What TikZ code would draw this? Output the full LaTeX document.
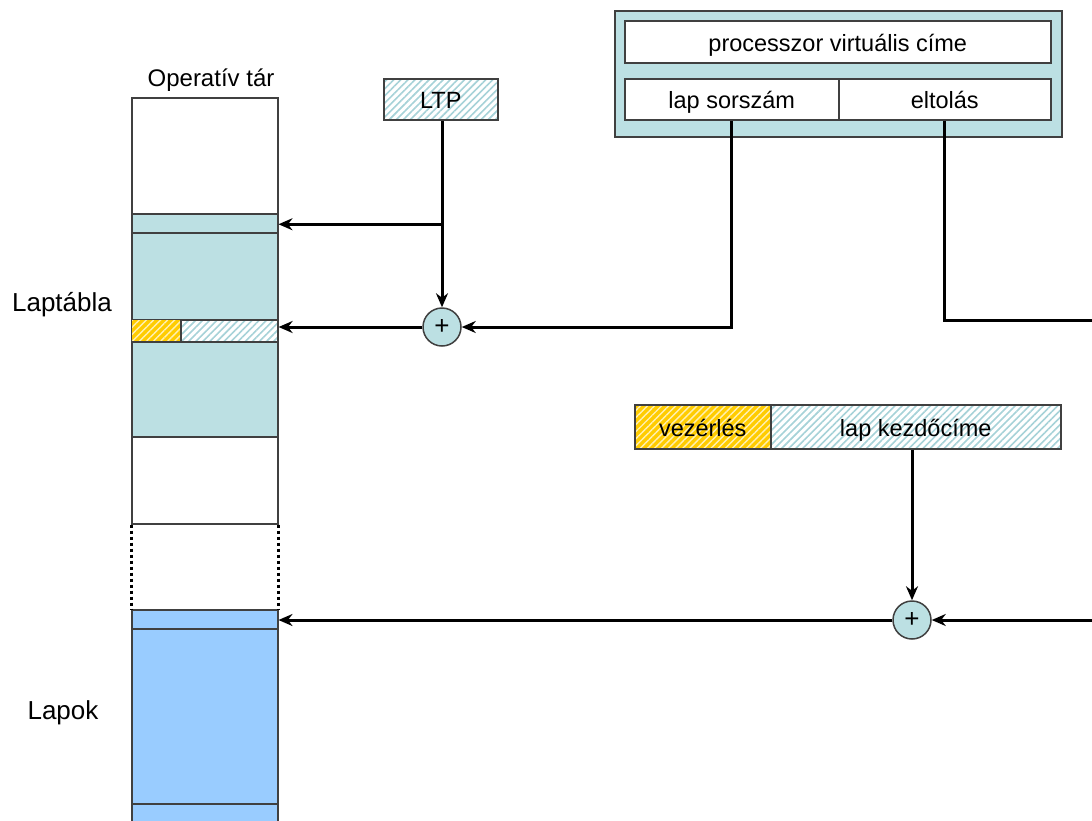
\documentclass[tikz,border=0pt]{standalone}
\usepackage{fontspec}
\setmainfont{Liberation Sans}
\usetikzlibrary{positioning,arrows.meta,patterns.meta,calc}
\definecolor{turkiz}{HTML}{BCE0E3}
\definecolor{kek}{HTML}{99CCFF}
\definecolor{sarga}{HTML}{FFCC00}
\definecolor{csik}{HTML}{A6D2D8}
\definecolor{keret}{HTML}{404040}
\tikzstyle{doboz} = [rectangle, draw=keret, line width=1.5pt, inner sep=0pt, anchor=north west, text centered, text height=20, text depth=1, font=\fontsize{23.5}{27}\selectfont]
\tikzstyle{tarsor} = [doboz, minimum width=146]
\tikzstyle{csikos} = [doboz, preaction={fill=white}, pattern={Lines[angle=45,distance=5pt,line width=1.6pt]}, pattern color=csik]
\tikzstyle{sargacsikos} = [doboz, preaction={fill=sarga}, pattern={Lines[angle=45,distance=5pt,line width=1.4pt]}, pattern color=white!70!sarga]
\tikzstyle{osszeado} = [circle, draw=keret, line width=1.5pt, fill=turkiz, minimum size=38, inner sep=0pt, font=\fontsize{26}{28}\selectfont]
\tikzstyle{nyil} = [line width=3pt, -{Stealth[length=14pt,width=12pt]}]
\tikzstyle{vonal} = [line width=3pt]
\tikzstyle{felirat} = [font=\fontsize{26}{30}\selectfont]

\begin{document}
\begin{tikzpicture}[x=1pt, y=-1pt]
	\useasboundingbox (0,0) rectangle (1092,820);
	% Operativ tar
	\node (cimke) [felirat, font=\fontsize{24}{28}\selectfont] at (211,80) {Operatív tár};
	\node (felso) [tarsor, minimum height=116, fill=white] at (131,97) {};
	\node (ltpsor) [tarsor, minimum height=19, fill=turkiz] at (131,213) {};
	\node (tabla1) [tarsor, minimum height=87, fill=turkiz] at (131,232) {};
	\node (vez1) [sargacsikos, minimum width=49, minimum height=22] at (131,319) {};
	\node (cim1) [csikos, minimum width=97, minimum height=22] at (180,319) {};
	\node (tabla2) [tarsor, minimum height=95, fill=turkiz] at (131,341) {};
	\node (ures) [tarsor, minimum height=87, fill=white] at (131,436) {};
	\node (lapsor) [tarsor, minimum height=19, fill=kek] at (131,609) {};
	\node (lapok) [tarsor, minimum height=175, fill=kek] at (131,628) {};
	\node (alja) [tarsor, minimum height=30, fill=kek] at (131,803) {};
	\draw[line width=3pt, dash pattern=on 3pt off 3pt] (ures.south west) -- (lapsor.north west);
	\draw[line width=3pt, dash pattern=on 3pt off 3pt] (ures.south east) -- (lapsor.north east);
	\node (laptabla) [felirat] at (62,305) {Laptábla};
	\node (lapokcimke) [felirat] at (63,713) {Lapok};
	% Cimek
	\node (ltp) [csikos, minimum width=114, minimum height=41] at (383,78) {LTP};
	\node (virt) [doboz, fill=turkiz, minimum width=447, minimum height=126] at (614,10) {};
	\node (proc) [doboz, fill=white, minimum width=426, minimum height=42] at (624,20) {processzor virtuális címe};
	\node (lapsorszam) [doboz, fill=white, minimum width=214, minimum height=41] at (624,78) {lap sorszám};
	\node (eltolas) [doboz, fill=white, minimum width=212, minimum height=41] at (838,78) {eltolás};
	\node (vezerles) [sargacsikos, minimum width=136, minimum height=44] at (634,404) {vezérlés};
	\node (kezdocim) [csikos, minimum width=290, minimum height=44] at (770,404) {lap kezdőcíme};
	% Osszeadok
	\node (plus1) [osszeado] at (442,327) {+};
	\node (plus2) [osszeado] at (912,620) {+};
	\coordinate (jobb1) at (1092,320);
	\coordinate (jobb2) at (1092,620);
	% Nyilak
	\draw[nyil] (ltp.south -| plus1) -- (plus1.north);
	\draw[nyil] (plus1 |- ltpsor.east) -- (ltpsor.east);
	\draw[nyil] (plus1.west) -- (plus1.west -| cim1.east);
	\draw[nyil] (lapsorszam.south) |- (plus1.east);
	\draw[vonal] (eltolas.south) |- (jobb1);
	\draw[nyil] (kezdocim.south -| plus2) -- (plus2.north);
	\draw[nyil] (jobb2) -- (plus2.east);
	\draw[nyil] (plus2.west) -- (plus2.west -| lapsor.east);
\end{tikzpicture}
\end{document}
